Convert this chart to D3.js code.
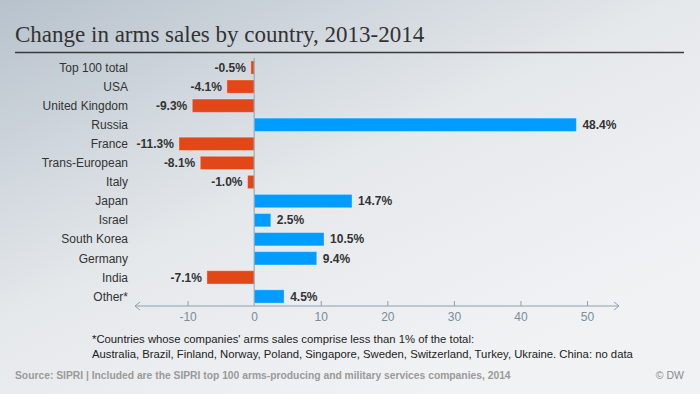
<!DOCTYPE html>
<html>
  <head>
    <meta charset="utf-8">
    <style>
      body { margin: 0; }
      svg { display: block; font-family: "Liberation Sans", Arial, sans-serif; }
      .cat { font-size: 12px; fill: #333; }
      .val { font-size: 12px; font-weight: bold; fill: #333; }
      .axis path, .axis line { stroke: #8da0b0; }
      .axis text { font-size: 12px; fill: #7a8c9c; font-family: "Liberation Sans", Arial, sans-serif; }
    </style>
  </head>
  <body>
    <svg></svg>
    <script src="https://cdnjs.cloudflare.com/ajax/libs/d3/7.8.5/d3.min.js"></script>
    <script>
      var countries = ['Top 100 total', 'USA', 'United Kingdom', 'Russia', 'France', 'Trans-European',
                       'Italy', 'Japan', 'Israel', 'South Korea', 'Germany', 'India', 'Other*'];
      var changes = [-0.5, -4.1, -9.3, 48.4, -11.3, -8.1, -1.0, 14.7, 2.5, 10.5, 9.4, -7.1, 4.5];
      var xTicks = [-10, 0, 10, 20, 30, 40, 50];
      var footnotes = ["*Countries whose companies' arms sales comprise less than 1% of the total:",
                       "Australia, Brazil, Finland, Norway, Poland, Singapore, Sweden, Switzerland, Turkey, Ukraine. China: no data"];

      var width = 700, height = 394;
      var svg = d3.select('svg').attr('width', width).attr('height', height);

      var grad = svg.append('defs').append('linearGradient')
                    .attr('id', 'bg').attr('x1', 0).attr('y1', 0).attr('x2', 0.75).attr('y2', 0.9);
      grad.append('stop').attr('offset', '0%').attr('stop-color', '#b7c2cc');
      grad.append('stop').attr('offset', '55%').attr('stop-color', '#e6e9ec');
      grad.append('stop').attr('offset', '100%').attr('stop-color', '#f1f2f4');
      svg.append('rect').attr('width', width).attr('height', height).attr('fill', 'url(#bg)');

      // title
      svg.append('text').attr('x', 15).attr('y', 42)
         .style('font-family', '"Liberation Serif", Georgia, serif').style('font-size', '23px').style('fill', '#333')
         .text('Change in arms sales by country, 2013-2014');
      svg.append('line').attr('x1', 15).attr('x2', 684).attr('y1', 52.5).attr('y2', 52.5)
         .style('stroke', '#3a3a3a').style('stroke-width', 1.5);

      var x = d3.scaleLinear().domain([-17.9, 54.8]).range([135, 619]);
      var y = d3.scaleBand().domain(countries).range([58, 306]).paddingInner(0.3).paddingOuter(0.15);
      var data = countries.map(function(c, i) { return {name: c, v: changes[i]}; });
      var hyphen = function(s) { return s.replace('\u2212', '-'); };

      // axis
      var axisY = 306;
      var ax = svg.append('g').attr('class', 'axis').attr('transform', 'translate(0,' + axisY + ')')
                  .call(d3.axisBottom(x).tickValues(xTicks).tickSize(-5).tickPadding(6).tickSizeOuter(0)
                          .tickFormat(function(d) { return hyphen(d3.format('d')(d)); }));
      ax.select('.domain').attr('d', 'M' + x.range()[0] + ',0H' + x.range()[1]);
      ax.append('path').attr('d', 'M' + (x.range()[0] + 5) + ',-4L' + x.range()[0] + ',0L' + (x.range()[0] + 5) + ',4')
        .attr('fill', 'none').attr('stroke', '#8da0b0');
      ax.append('path').attr('d', 'M' + (x.range()[1] - 5) + ',-4L' + x.range()[1] + ',0L' + (x.range()[1] - 5) + ',4')
        .attr('fill', 'none').attr('stroke', '#8da0b0');
      ax.selectAll('.tick').filter(function(d) { return d === 0; }).select('line').remove();

      // bars
      svg.append('g').selectAll('rect').data(data).join('rect')
         .attr('x', function(d) { return x(Math.min(0, d.v)); })
         .attr('y', function(d) { return y(d.name); })
         .attr('width', function(d) { return Math.abs(x(d.v) - x(0)); })
         .attr('height', y.bandwidth())
         .attr('fill', function(d) { return d.v < 0 ? '#e14717' : '#009cff'; })
         .attr('stroke', 'rgba(255,255,255,0.35)').attr('stroke-width', 1);

      // zero line
      svg.append('line').attr('x1', x(0)).attr('x2', x(0)).attr('y1', 58).attr('y2', axisY)
         .style('stroke', '#8da0b0').style('stroke-width', 1);

      // category labels
      svg.append('g').selectAll('text').data(data).join('text').attr('class', 'cat')
         .attr('x', 128).attr('y', function(d) { return y(d.name) + y.bandwidth() / 2; })
         .attr('dy', '0.35em').attr('text-anchor', 'end')
         .text(function(d) { return d.name; });

      // value labels
      var fmt = d3.format('.1f');
      svg.append('g').selectAll('text').data(data).join('text').attr('class', 'val')
         .attr('x', function(d) { return d.v < 0 ? x(d.v) - 5 : x(d.v) + 6; })
         .attr('y', function(d) { return y(d.name) + y.bandwidth() / 2; })
         .attr('dy', '0.35em').attr('text-anchor', function(d) { return d.v < 0 ? 'end' : 'start'; })
         .text(function(d) { return hyphen(fmt(d.v)) + '%'; });

      // footnotes
      svg.append('g').selectAll('text').data(footnotes).join('text')
         .attr('x', 92).attr('y', function(d, i) { return 343 + i * 14.5; })
         .style('font-size', '11.3px').style('fill', '#222')
         .text(function(d) { return d; });

      svg.append('text').attr('x', 15).attr('y', 379)
         .style('font-size', '10.3px').style('font-weight', 'bold').style('fill', '#9a9a9a')
         .text('Source: SIPRI | Included are the SIPRI top 100 arms-producing and military services companies, 2014');
      svg.append('text').attr('x', 684).attr('y', 379).attr('text-anchor', 'end')
         .style('font-size', '10.5px').style('fill', '#8a8a8a')
         .text('\u00a9 DW');
    </script>
  </body>
</html>
